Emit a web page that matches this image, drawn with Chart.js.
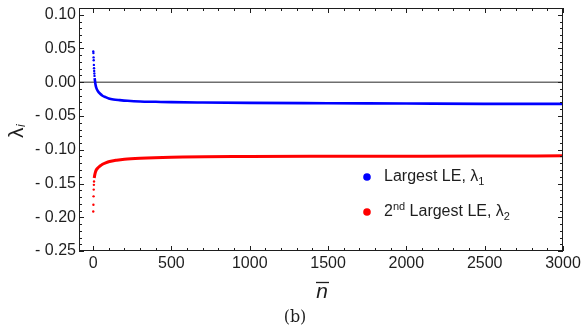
<!DOCTYPE html>
<html>
<head>
<meta charset="utf-8">
<script src="https://cdn.jsdelivr.net/npm/chart.js@4.4.0/dist/chart.umd.min.js"></script>
<style>
  body { margin: 0; background: #fff; }
  #wrap { width: 582px; height: 333px; }
</style>
</head>
<body>
<div id="wrap"><canvas id="lyap" width="582" height="333"></canvas></div>
<script>
// values
const blueEarlyN = [1, 2, 3, 4, 5, 6, 7, 8, 9];
const blueEarly  = [0.0457, 0.0432, 0.0368, 0.0327, 0.0257, 0.0208, 0.0168, 0.0129, 0.0094];
const blueN = [10, 12, 15, 20, 30, 45, 60, 80, 100, 130, 170, 220, 300, 400, 500, 700, 1000, 1500, 2000, 2500, 3000];
const blueVals = [0.006, 0.002, -0.003, -0.008, -0.013, -0.017, -0.020, -0.022, -0.024, -0.0255, -0.0265, -0.0275,
                  -0.0285, -0.029, -0.0295, -0.030, -0.0305, -0.031, -0.0315, -0.032, -0.032];

const redEarlyN = [1, 2, 3, 4, 5, 6];
const redEarly  = [-0.1915, -0.1815, -0.169, -0.159, -0.152, -0.147];
const redN = [7, 10, 14, 20, 30, 42, 60, 80, 105, 150, 200, 300, 500, 1000, 1500, 2000, 2500, 3000];
const redVals = [-0.142, -0.138, -0.134, -0.130, -0.127, -0.1245, -0.1215, -0.1195, -0.1175, -0.1155, -0.114,
                 -0.1125, -0.111, -0.110, -0.1097, -0.1095, -0.1093, -0.109];

const xTicks = [0, 500, 1000, 1500, 2000, 2500, 3000];
const yTicks = [0.10, 0.05, 0.00, -0.05, -0.10, -0.15, -0.20, -0.25];

const pts = (xs, ys) => xs.map((x, i) => ({ x: x, y: ys[i] }));

const fontMain = '16px "Liberation Sans", Arial, sans-serif';
const ink = '#1e1e1e';

const decorations = {
  id: 'decorations',
  beforeDatasetsDraw(chart) {
    const { ctx, chartArea: a, scales: { y } } = chart;
    // zero reference line
    ctx.save();
    ctx.strokeStyle = '#6e6e6e';
    ctx.lineWidth = 1.3;
    const y0 = y.getPixelForValue(0);
    ctx.beginPath();
    ctx.moveTo(a.left, y0);
    ctx.lineTo(a.right, y0);
    ctx.stroke();
    ctx.restore();
  },
  afterDraw(chart) {
    const { ctx, chartArea: a, scales: { x, y } } = chart;
    ctx.save();
    ctx.strokeStyle = ink;
    ctx.lineWidth = 1;
    ctx.strokeRect(a.left + 0.5, a.top + 0.5, a.right - a.left - 1, a.bottom - a.top - 1);

    // x ticks, major every 500 and minor every 100, inward on top and bottom
    ctx.beginPath();
    for (let v = 0; v <= 3000; v += 100) {
      const px = Math.round(x.getPixelForValue(v)) + 0.5;
      const len = v % 500 === 0 ? 5 : 3;
      ctx.moveTo(px, a.bottom); ctx.lineTo(px, a.bottom - len);
      ctx.moveTo(px, a.top); ctx.lineTo(px, a.top + len);
    }
    // y ticks, major every 0.05 and minor every 0.01
    for (let k = -25; k <= 10; k++) {
      const py = Math.round(y.getPixelForValue(k / 100)) + 0.5;
      const len = k % 5 === 0 ? 5 : 3;
      ctx.moveTo(a.left, py); ctx.lineTo(a.left + len, py);
      ctx.moveTo(a.right, py); ctx.lineTo(a.right - len, py);
    }
    ctx.stroke();

    // tick labels
    ctx.fillStyle = ink;
    ctx.font = fontMain;
    ctx.textAlign = 'center';
    ctx.textBaseline = 'middle';
    xTicks.forEach(v => ctx.fillText(String(v), x.getPixelForValue(v), a.bottom + 13));
    ctx.textAlign = 'right';
    yTicks.forEach(v => {
      const s = v < 0 ? '- ' + Math.abs(v).toFixed(2) : v.toFixed(2);
      ctx.fillText(s, a.left - 3, y.getPixelForValue(v));
    });

    // x title: n with overline
    ctx.textAlign = 'center';
    ctx.font = 'italic 21px "Liberation Sans", Arial, sans-serif';
    ctx.fillText('n', 322, 292);
    ctx.beginPath();
    ctx.lineWidth = 1.3;
    ctx.moveTo(316, 282.5); ctx.lineTo(329, 282.5);
    ctx.stroke();

    // caption
    ctx.font = '16px "DejaVu Serif", "Liberation Serif", serif';
    ctx.fillText('(b)', 295, 318);

    // y title: lambda_i rotated
    ctx.save();
    ctx.translate(17, 131);
    ctx.rotate(-Math.PI / 2);
    ctx.textAlign = 'left';
    ctx.font = '21px "Liberation Sans", Arial, sans-serif';
    ctx.fillText('λ', -7, 0);
    ctx.font = 'italic 12px "Liberation Sans", Arial, sans-serif';
    ctx.fillText('i', 4, 5);
    ctx.restore();

    // legend
    const items = [
      { color: '#0000ff', yy: 177, parts: [['Largest LE, λ', 0], ['1', 1]] },
      { color: '#ff0000', yy: 212, parts: [['2', 0], ['nd', -1], [' Largest LE, λ', 0], ['2', 1]] }
    ];
    ctx.textAlign = 'left';
    items.forEach(it => {
      ctx.fillStyle = it.color;
      ctx.beginPath();
      ctx.arc(367, it.yy, 3.8, 0, Math.PI * 2);
      ctx.fill();
      ctx.fillStyle = ink;
      let cx = 384;
      it.parts.forEach(([t, pos]) => {
        ctx.font = pos === 0 ? fontMain : '11px "Liberation Sans", Arial, sans-serif';
        const dy = pos === 1 ? 5 : pos === -1 ? -5 : 0;
        ctx.fillText(t, cx, it.yy + dy);
        cx += ctx.measureText(t).width;
      });
    });
    ctx.restore();
  }
};

new Chart(document.getElementById('lyap').getContext('2d'), {
  type: 'scatter',
  data: {
    datasets: [
      { label: 'Largest LE, λ1', data: pts(blueN, blueVals), showLine: true, borderColor: '#0000ff',
        borderWidth: 2.6, pointRadius: 0, cubicInterpolationMode: 'monotone' },
      { label: 'blue early', data: pts(blueEarlyN, blueEarly), backgroundColor: '#0000ff',
        borderWidth: 0, pointRadius: 1.2 },
      { label: '2nd Largest LE, λ2', data: pts(redN, redVals), showLine: true, borderColor: '#ff0000',
        borderWidth: 3, pointRadius: 0, cubicInterpolationMode: 'monotone' },
      { label: 'red early', data: pts(redEarlyN, redEarly), backgroundColor: '#ff0000',
        borderWidth: 0, pointRadius: 1.2 }
    ]
  },
  options: {
    responsive: false,
    animation: false,
    layout: { padding: { left: 79, right: 19, top: 8, bottom: 82 } },
    plugins: { legend: { display: false }, tooltip: { enabled: false } },
    scales: {
      x: { display: false, min: -90, max: 3000 },
      y: { display: false, min: -0.25, max: 0.11 }
    }
  },
  plugins: [decorations]
});
</script>
</body>
</html>
